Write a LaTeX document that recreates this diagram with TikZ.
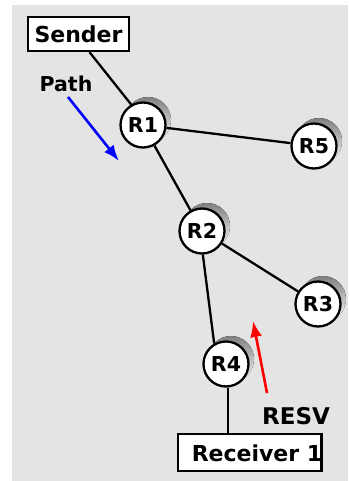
\documentclass[tikz,border=0pt]{standalone}
\usepackage{fontspec}
\setmainfont{DejaVu Sans}
\usetikzlibrary{arrows.meta}
\definecolor{panel}{HTML}{E4E4E4}
\definecolor{shade}{HTML}{6E6E6E}
\begin{document}
\begin{tikzpicture}[x=1pt,y=-1pt,
  txt/.style={inner sep=0pt, font=\fontsize{#1}{#1}\selectfont\bfseries},
  txt/.default=20,
  router/.style={circle, draw, line width=2.3pt, fill=white, minimum size=45pt,
    inner sep=0pt, txt=20.5},
  box/.style={draw, line width=2.3pt, fill=white, inner sep=0pt},
  link/.style={line width=2.3pt},
  signal/.style={line width=2.6pt, -{Latex[length=16pt,width=12pt]}}]
  \useasboundingbox (0,0) rectangle (348,481);
  \fill[panel] (12,5) rectangle (348,481);

  % end systems
  \node[box, minimum width=101pt, minimum height=34pt, txt=22] (sender) at (78.5,34) {Sender};
  \node[box, minimum width=143pt, minimum height=37pt] (rcv) at (249.5,452.5) {};
  \node[txt=22] (rcvtext) at (257,453) {Receiver 1};
  % right edge of the frame runs over the last digit
  \draw[line width=2.3pt] (rcv.north east) -- (rcv.south east);

  % routers with their shadows
  \foreach \n/\x/\y in {R1/143/125, R5/314/146, R2/202/231, R3/318/304, R4/226/364} {
    \fill[shade] (\x+5,\y-5) circle[radius=23pt];
    \node[router] (\n) at (\x,\y) {\n};
  }

  % links
  \draw[link] ([xshift=11pt]sender.south) -- (R1.120);
  \draw[link] (R1) -- (R5);
  \draw[link] (R1) -- (R2);
  \draw[link] (R2) -- (R3);
  \draw[link] (R2.272) -- (R4.120);
  \draw[link] (R4.-85) -- (R4.-85 |- rcv.north);

  % messages
  \node[txt=20.5] (pathlabel) at (66,84) {Path};
  \coordinate (pathtail) at (68,97);
  \coordinate (pathtip) at (119,161);
  \draw[signal, blue] (pathtail) -- (pathtip);

  \node[txt=23] (resvlabel) at (296,416) {RESV};
  \coordinate (resvtail) at (267,393);
  \coordinate (resvtip) at (253,321);
  \draw[signal, red] (resvtail) -- (resvtip);
\end{tikzpicture}
\end{document}
